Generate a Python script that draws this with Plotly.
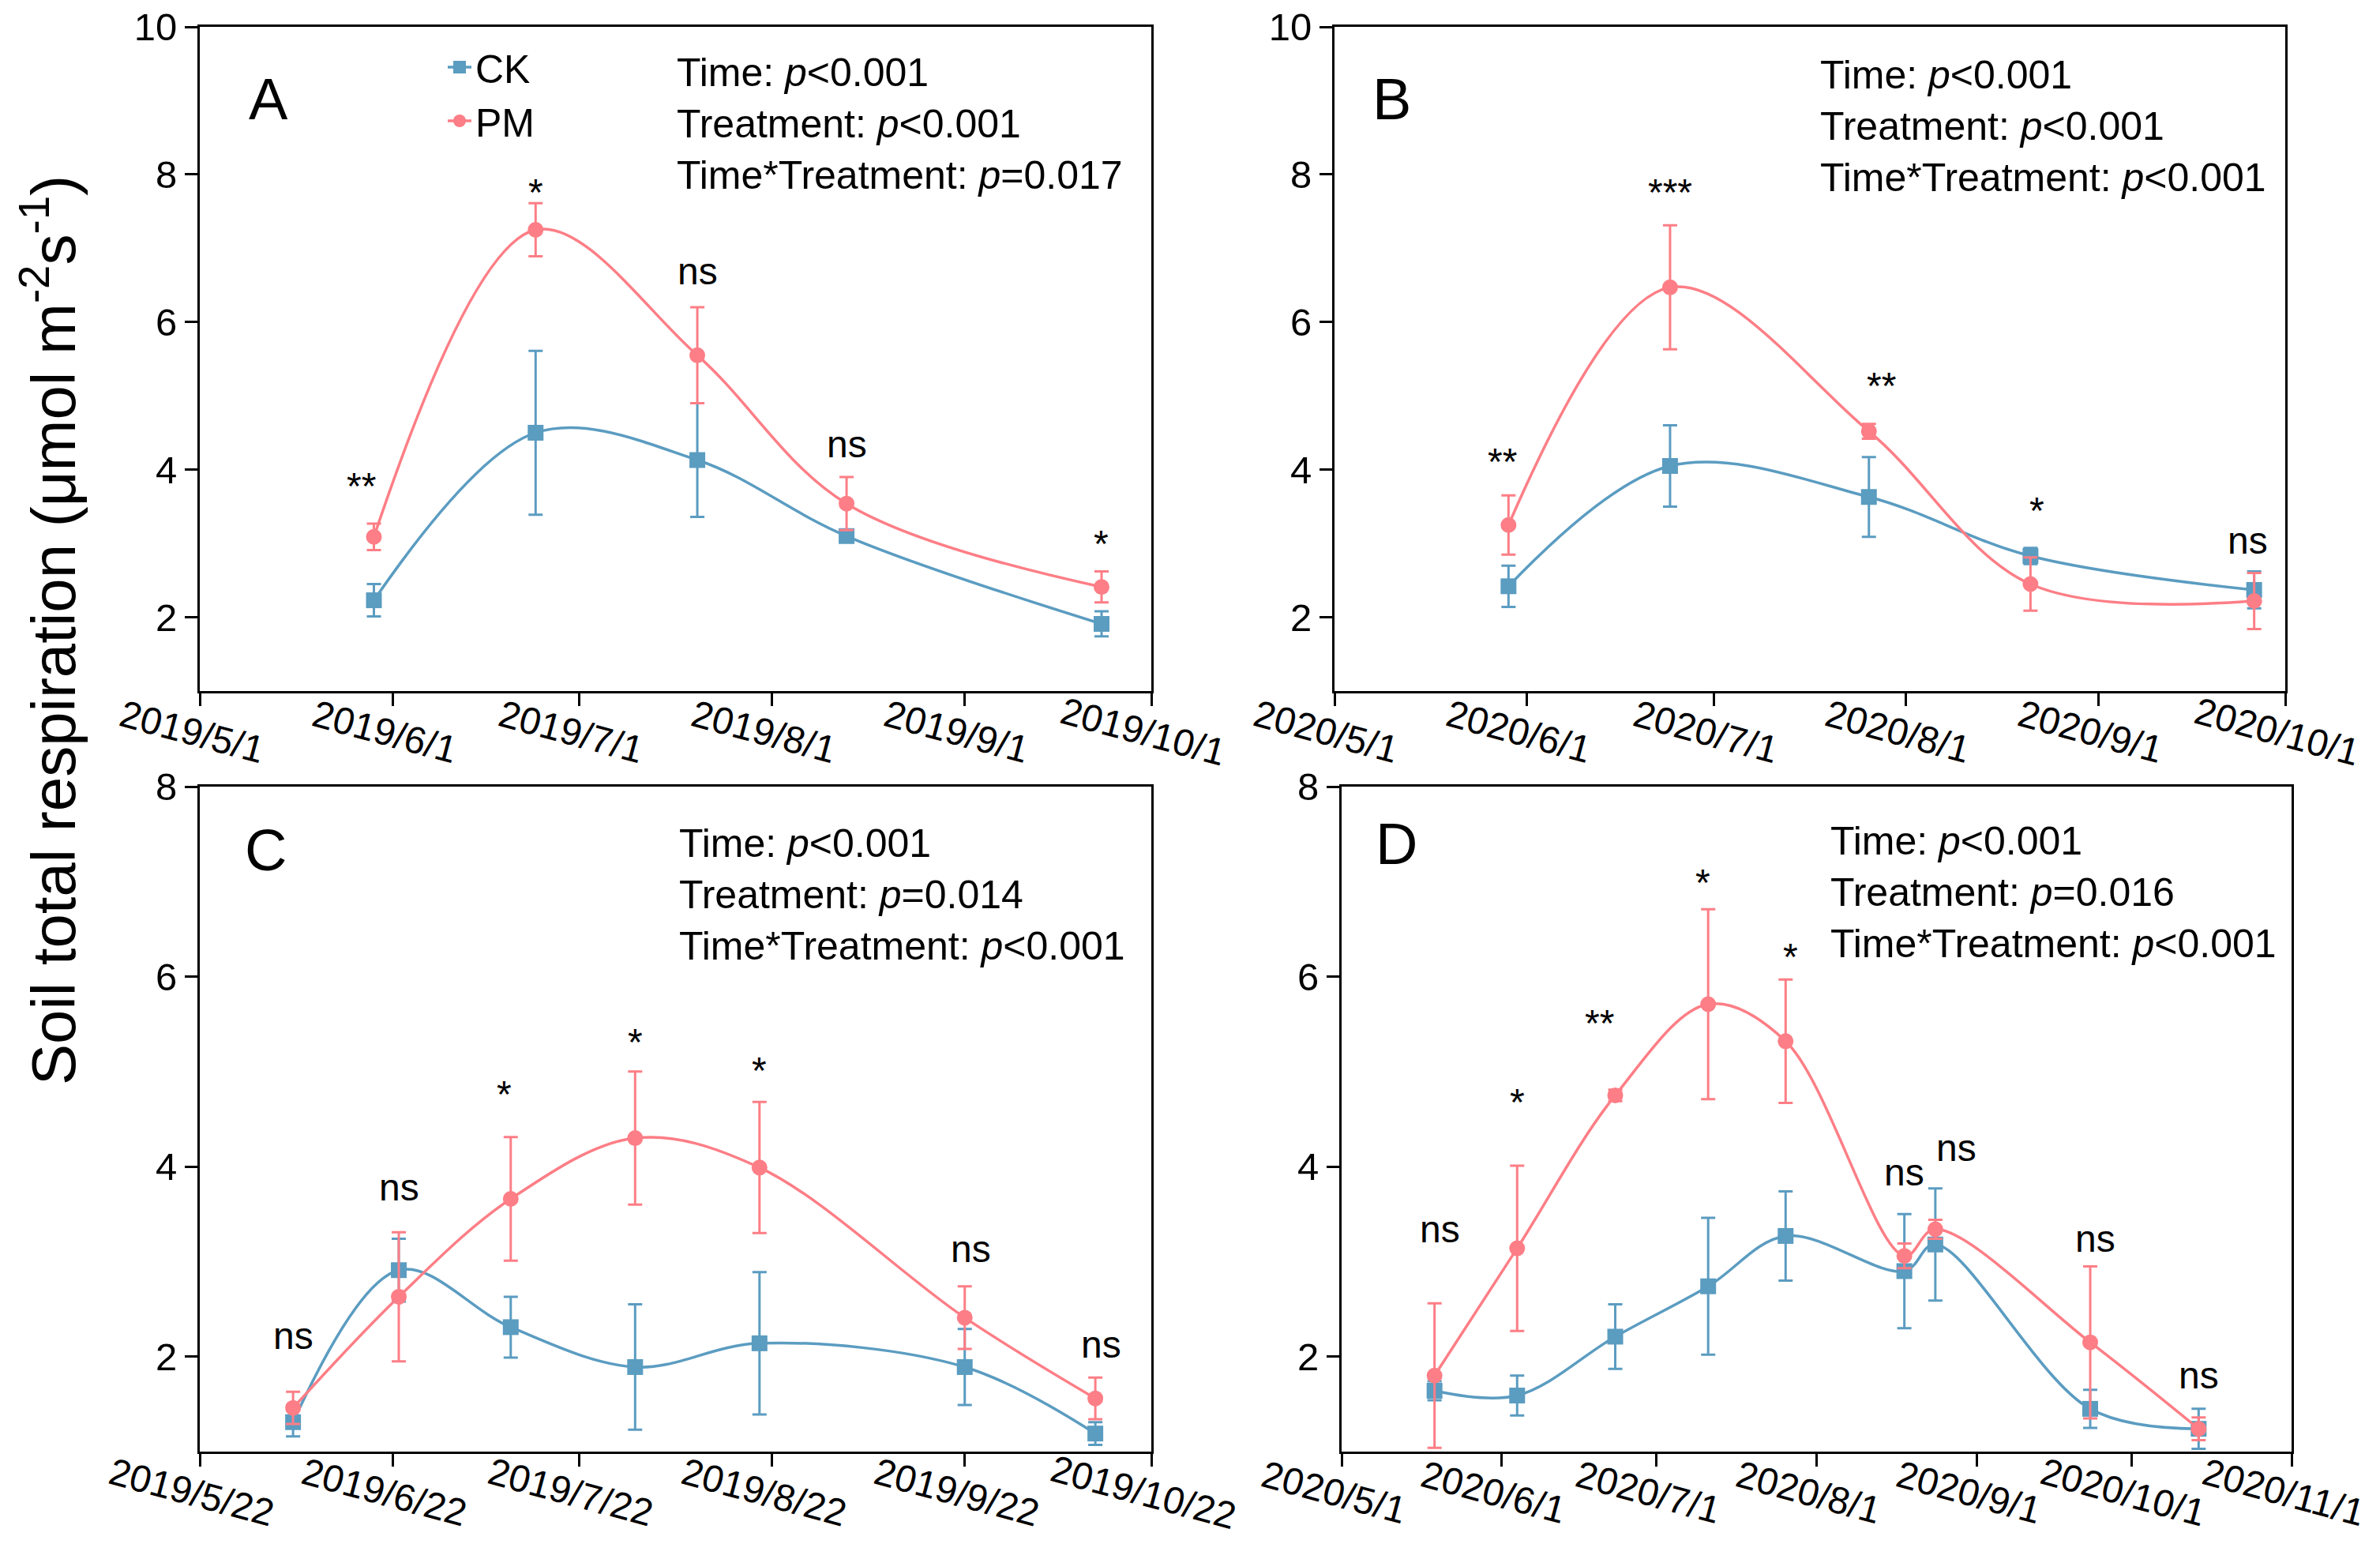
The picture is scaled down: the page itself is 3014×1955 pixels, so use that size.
import plotly.graph_objects as go

# ---- data ----
# Panel A (2019)
a_dates = ['2019-05-29', '2019-06-24', '2019-07-20', '2019-08-13', '2019-09-23']
a_ck = [2.23, 4.50, 4.13, 3.10, 1.91]
a_ck_err = [0.22, 1.11, 0.77, 0.06, 0.17]
a_pm = [3.09, 7.25, 5.55, 3.54, 2.41]
a_pm_err = [0.18, 0.36, 0.65, 0.36, 0.21]
a_sig = ['**', '*', 'ns', 'ns', '*']
a_sig_x = ['2019-05-27', '2019-06-24', '2019-07-20', '2019-08-13', '2019-09-23']
a_sig_y = [3.91, 7.89, 6.69, 4.34, 3.12]
a_ticks = ['2019-05-01', '2019-06-01', '2019-07-01', '2019-08-01', '2019-09-01', '2019-10-01']
a_ticklabels = ['2019/5/1', '2019/6/1', '2019/7/1', '2019/8/1', '2019/9/1', '2019/10/1']

# Panel B (2020)
b_dates = ['2020-05-29', '2020-06-24', '2020-07-26', '2020-08-21', '2020-09-26']
b_ck = [2.42, 4.05, 3.63, 2.83, 2.37]
b_ck_err = [0.28, 0.55, 0.54, 0.11, 0.25]
b_pm = [3.25, 6.47, 4.52, 2.45, 2.22]
b_pm_err = [0.40, 0.84, 0.10, 0.36, 0.38]
b_sig = ['**', '***', '**', '*', 'ns']
b_sig_x = ['2020-05-28', '2020-06-24', '2020-07-28', '2020-08-22', '2020-09-25']
b_sig_y = [4.24, 7.89, 5.26, 3.57, 3.04]
b_ticks = ['2020-05-01', '2020-06-01', '2020-07-01', '2020-08-01', '2020-09-01', '2020-10-01']
b_ticklabels = ['2020/5/1', '2020/6/1', '2020/7/1', '2020/8/1', '2020/9/1', '2020/10/1']

# Panel C (2019)
c_dates = ['2019-06-06', '2019-06-23', '2019-07-11', '2019-07-31', '2019-08-20', '2019-09-22', '2019-10-13']
c_ck = [1.31, 2.91, 2.31, 1.89, 2.14, 1.89, 1.19]
c_ck_err = [0.15, 0.33, 0.32, 0.66, 0.75, 0.40, 0.12]
c_pm = [1.46, 2.63, 3.66, 4.30, 3.99, 2.41, 1.56]
c_pm_err = [0.17, 0.68, 0.65, 0.70, 0.69, 0.33, 0.22]
c_sig = ['ns', 'ns', '*', '*', '*', 'ns', 'ns']
c_sig_x = ['2019-06-06', '2019-06-23', '2019-07-10', '2019-07-31', '2019-08-20', '2019-09-23', '2019-10-14']
c_sig_y = [2.22, 3.78, 4.86, 5.41, 5.11, 3.13, 2.13]
c_ticks = ['2019-05-22', '2019-06-22', '2019-07-22', '2019-08-22', '2019-09-22', '2019-10-22']
c_ticklabels = ['2019/5/22', '2019/6/22', '2019/7/22', '2019/8/22', '2019/9/22', '2019/10/22']

# Panel D (2020)
d_dates = ['2020-05-19', '2020-06-04', '2020-06-23', '2020-07-11', '2020-07-26',
           '2020-08-18', '2020-08-24', '2020-09-23', '2020-10-14']
d_ck = [1.64, 1.59, 2.21, 2.74, 3.27, 2.90, 3.18, 1.45, 1.24]
d_ck_err = [0.10, 0.21, 0.34, 0.72, 0.47, 0.60, 0.59, 0.20, 0.21]
d_pm = [1.80, 3.14, 4.75, 5.71, 5.32, 3.06, 3.34, 2.15, 1.24]
d_pm_err = [0.76, 0.87, 0.06, 1.00, 0.65, 0.13, 0.10, 0.80, 0.12]
d_sig = ['ns', '*', '**', '*', '*', 'ns', 'ns', 'ns', 'ns']
d_sig_x = ['2020-05-20', '2020-06-04', '2020-06-20', '2020-07-10', '2020-07-27',
           '2020-08-18', '2020-08-28', '2020-09-24', '2020-10-14']
d_sig_y = [3.34, 4.78, 5.61, 7.09, 6.31, 3.94, 4.20, 3.24, 1.80]
d_ticks = ['2020-05-01', '2020-06-01', '2020-07-01', '2020-08-01', '2020-09-01', '2020-10-01', '2020-11-01']
d_ticklabels = ['2020/5/1', '2020/6/1', '2020/7/1', '2020/8/1', '2020/9/1', '2020/10/1', '2020/11/1']

stats_a = ['<0.001', '<0.001', '=0.017']
stats_b = ['<0.001', '<0.001', '<0.001']
stats_c = ['<0.001', '=0.014', '<0.001']
stats_d = ['<0.001', '=0.016', '<0.001']

CK_COLOR = '#5B9CC1'
PM_COLOR = '#FD7E86'
FONT = 'Liberation Sans, Arial, sans-serif'

# the page body adds an 8px margin, so the figure is made that much smaller
# and positions below are given in image pixels
OFF = 8
W, H = 3014 - 2 * OFF, 1955 - 2 * OFF


def px(x):
    return (x - OFF) / W


def py(y):
    return 1 - (y - OFF) / H


panels = [
    dict(name='A', dates=a_dates, ck=a_ck, ck_err=a_ck_err, pm=a_pm, pm_err=a_pm_err,
         sig=a_sig, sig_x=a_sig_x, sig_y=a_sig_y, ticks=a_ticks, labels=a_ticklabels,
         stats=stats_a, xdom=[253, 1458], ydom=[34, 875], yr=[1, 10],
         letter=(340, 125), stat=(855, 157)),
    dict(name='B', dates=b_dates, ck=b_ck, ck_err=b_ck_err, pm=b_pm, pm_err=b_pm_err,
         sig=b_sig, sig_x=b_sig_x, sig_y=b_sig_y, ticks=b_ticks, labels=b_ticklabels,
         stats=stats_b, xdom=[1690, 2894], ydom=[34, 875], yr=[1, 10],
         letter=(1762, 125), stat=(2303, 160)),
    dict(name='C', dates=c_dates, ck=c_ck, ck_err=c_ck_err, pm=c_pm, pm_err=c_pm_err,
         sig=c_sig, sig_x=c_sig_x, sig_y=c_sig_y, ticks=c_ticks, labels=c_ticklabels,
         stats=stats_c, xdom=[253, 1458], ydom=[996, 1838], yr=[1, 8],
         letter=(336, 1076), stat=(858, 1133)),
    dict(name='D', dates=d_dates, ck=d_ck, ck_err=d_ck_err, pm=d_pm, pm_err=d_pm_err,
         sig=d_sig, sig_x=d_sig_x, sig_y=d_sig_y, ticks=d_ticks, labels=d_ticklabels,
         stats=stats_d, xdom=[1699, 2902], ydom=[996, 1838], yr=[1, 8],
         letter=(1768, 1068), stat=(2316, 1130)),
]

fig = go.Figure()
annotations = []
layout_axes = {}

for i, p in enumerate(panels):
    n = '' if i == 0 else str(i + 1)
    xa, ya = 'x' + n, 'y' + n
    for label, vals, errs, color, sym in [('CK', p['ck'], p['ck_err'], CK_COLOR, 'square'),
                                          ('PM', p['pm'], p['pm_err'], PM_COLOR, 'circle')]:
        fig.add_trace(go.Scatter(
            x=p['dates'], y=vals, xaxis=xa, yaxis=ya,
            mode='lines+markers', name=label, showlegend=(i == 0),
            line=dict(color=color, width=3.5, shape='spline', smoothing=1.0),
            marker=dict(symbol=sym, size=20, color=color),
            error_y=dict(type='data', array=errs, color=color, thickness=3, width=9),
            cliponaxis=False,
        ))

    layout_axes['xaxis' + n] = dict(
        domain=[px(p['xdom'][0]), px(p['xdom'][1])], anchor=ya, type='date',
        range=[p['ticks'][0], p['ticks'][-1]], tickvals=p['ticks'], showticklabels=False,
        ticks='outside', ticklen=16, tickwidth=3, tickcolor='black',
        showline=True, linewidth=3, linecolor='black', mirror=True,
        showgrid=False, zeroline=False, automargin=False)
    layout_axes['yaxis' + n] = dict(
        domain=[py(p['ydom'][1]), py(p['ydom'][0])], anchor=xa,
        range=p['yr'], dtick=2, tick0=0, ticklabeloverflow='allow',
        ticks='outside', ticklen=16, tickwidth=3, tickcolor='black',
        tickfont=dict(size=49, color='black', family=FONT),
        showline=True, linewidth=3, linecolor='black', mirror=True,
        showgrid=False, zeroline=False, automargin=False)

    # rotated date tick labels
    for t, lab in zip(p['ticks'], p['labels']):
        annotations.append(dict(
            x=t, xref=xa, y=py(p['ydom'][1]), yref='paper', text=lab,
            showarrow=False, textangle=15, xanchor='center', yanchor='middle',
            xshift=-10, yshift=-51, font=dict(size=48, color='black', family=FONT)))

    # significance marks
    for t, s, sy in zip(p['sig_x'], p['sig'], p['sig_y']):
        annotations.append(dict(
            x=t, xref=xa, y=sy, yref=ya, text=s, showarrow=False,
            xanchor='center', yanchor='middle', yshift=-12 if s.startswith('*') else 0,
            font=dict(size=48, color='black', family=FONT)))

    # panel letter
    annotations.append(dict(
        x=px(p['letter'][0]), y=py(p['letter'][1]), xref='paper', yref='paper',
        text=p['name'], showarrow=False, xanchor='center', yanchor='middle',
        font=dict(size=74, color='black', family=FONT)))

    # statistics text
    st = p['stats']
    txt = ('Time: <i>p</i>%s<br>Treatment: <i>p</i>%s<br>Time*Treatment: <i>p</i>%s'
           % tuple(v.replace('<', '&lt;') for v in st))
    annotations.append(dict(
        x=px(p['stat'][0]), y=py(p['stat'][1]), xref='paper', yref='paper',
        text=txt, showarrow=False, xanchor='left', yanchor='middle', align='left',
        font=dict(size=50, color='black', family=FONT)))

# shared y-axis title
annotations.append(dict(
    x=px(62), y=py(798), xref='paper', yref='paper',
    text='Soil total respiration (μmol m<sup>-2</sup>s<sup>-1</sup>)',
    showarrow=False, textangle=-90, xanchor='center', yanchor='middle',
    font=dict(size=78, color='black', family=FONT)))

fig.update_layout(
    width=W, height=H, autosize=False,
    margin=dict(l=0, r=0, t=0, b=0, pad=0),
    paper_bgcolor='white', plot_bgcolor='white',
    font=dict(family=FONT, color='black'),
    annotations=annotations,
    legend=dict(x=px(562), y=py(46), xanchor='left', yanchor='top',
                bgcolor='rgba(0,0,0,0)', font=dict(size=50, color='black', family=FONT),
                tracegroupgap=0, itemwidth=30),
    **layout_axes,
)

fig.write_html('out.html')
